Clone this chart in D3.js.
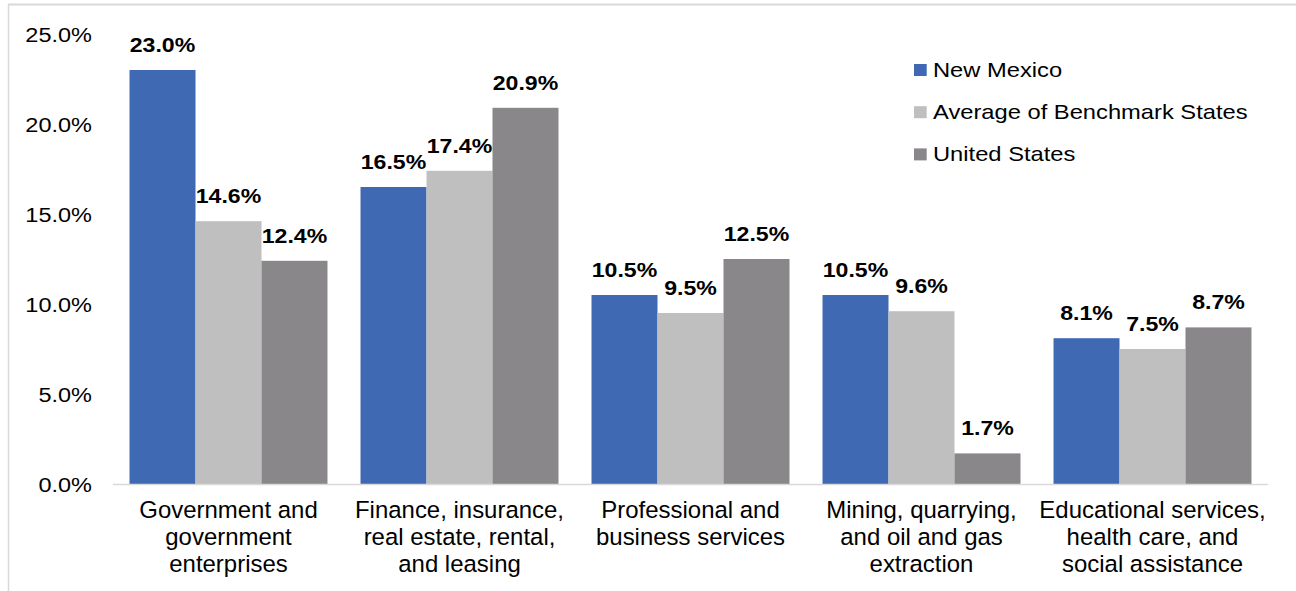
<!DOCTYPE html>
<html><head><meta charset="utf-8">
<script src="https://cdn.jsdelivr.net/npm/d3@7"></script>
<style>body{margin:0;background:#fff}svg{display:block}text{font-family:"Liberation Sans",Arial,sans-serif;fill:#000}</style>
</head><body>
<svg id="c" width="1296" height="591"></svg>
<script>
const categories = [
  ["Government and","government","enterprises"],
  ["Finance, insurance,","real estate, rental,","and leasing"],
  ["Professional and","business services"],
  ["Mining, quarrying,","and oil and gas","extraction"],
  ["Educational services,","health care, and","social assistance"]
];
const seriesNames = ["New Mexico","Average of Benchmark States","United States"];
const newMexico = [23.0,16.5,10.5,10.5,8.1];
const benchmark = [14.6,17.4,9.5,9.6,7.5];
const unitedStates = [12.4,20.9,12.5,1.7,8.7];
const yTicks = [0,5,10,15,20,25];
const colors = ["#3F69B3","#BFBFBF","#898789"];

const series = [newMexico, benchmark, unitedStates];
const svg = d3.select("#c");
const catKeys = categories.map((c,i)=>i);

const x0 = d3.scaleBand().domain(catKeys).range([113,1268]).paddingInner(0.143).paddingOuter(0.0715);
const x1 = d3.scaleBand().domain([0,1,2]).range([0,x0.bandwidth()]);
const y = d3.scaleLinear().domain([0,25]).range([484,34]);

// frame
svg.append("line").attr("x1",8).attr("x2",1296).attr("y1",4.5).attr("y2",4.5).attr("stroke","#d9d9d9").attr("stroke-width",2);
svg.append("line").attr("x1",8.5).attr("x2",8.5).attr("y1",4).attr("y2",591).attr("stroke","#d9d9d9").attr("stroke-width",1.5);

// y tick labels
svg.append("g").selectAll("text").data(yTicks).join("text")
  .attr("transform",d=>`translate(92,${y(d)+7.7}) scale(1.12,1)`)
  .attr("text-anchor","end").style("font-size","21px")
  .text(d=>d3.format(".1f")(d)+"%");

// bars
const g = svg.append("g").selectAll("g").data(catKeys).join("g")
  .attr("transform",d=>`translate(${x0(d)},0)`);
g.selectAll("rect").data(ci=>series.map((s,si)=>({si,v:s[ci]}))).join("rect")
  .attr("x",d=>x1(d.si)).attr("width",x1.bandwidth())
  .attr("y",d=>y(d.v)).attr("height",d=>y(0)-y(d.v))
  .attr("fill",d=>colors[d.si]);
g.selectAll("text.lab").data(ci=>series.map((s,si)=>({si,v:s[ci]}))).join("text")
  .attr("class","lab")
  .attr("transform",d=>`translate(${x1(d.si)+x1.bandwidth()/2},${y(d.v)-18}) scale(1.1,1)`)
  .attr("text-anchor","middle").style("font-size","21px").style("font-weight","bold")
  .text(d=>d3.format(".1f")(d.v)+"%");

// axis line
svg.append("line").attr("x1",113).attr("x2",1268).attr("y1",484.5).attr("y2",484.5).attr("stroke","#d9d9d9").attr("stroke-width",1.5);

// category labels
const cl = svg.append("g").selectAll("text").data(catKeys).join("text")
  .attr("text-anchor","middle").style("font-size","23.5px")
  .attr("transform",d=>`translate(${x0(d)+x0.bandwidth()/2},518) scale(1.02,1)`);
cl.selectAll("tspan").data(d=>categories[d]).join("tspan")
  .attr("x",0).attr("y",(d,i)=>i*27).text(d=>d);

// legend
const lg = svg.append("g").selectAll("g").data(seriesNames).join("g")
  .attr("transform",(d,i)=>`translate(914,${64+i*42.2})`);
lg.append("rect").attr("width",12.7).attr("height",12).attr("fill",(d,i)=>colors[i]);
lg.append("text").attr("transform","translate(19,12.7) scale(1.13,1)").style("font-size","21px")
  .text(d=>d);
</script>
</body></html>
